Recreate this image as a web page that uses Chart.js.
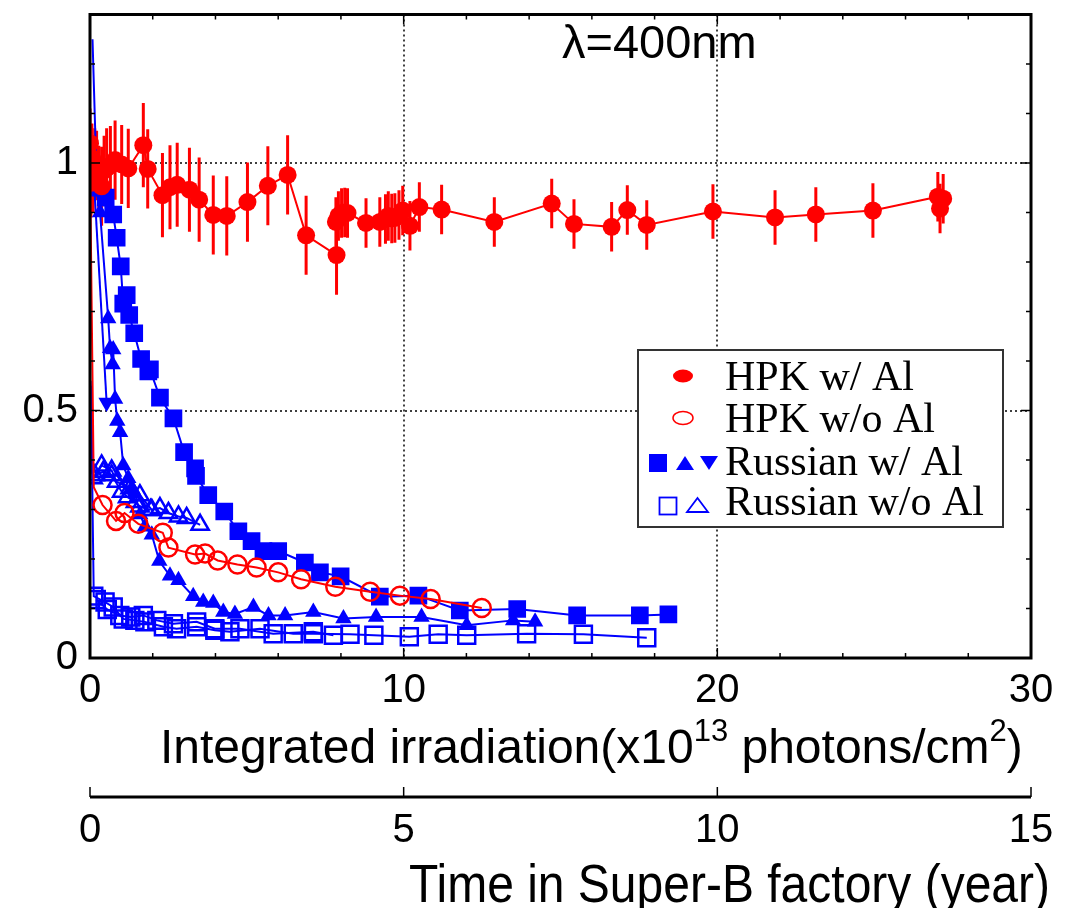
<!DOCTYPE html>
<html><head><meta charset="utf-8">
<script src="https://cdn.jsdelivr.net/npm/chart.js@4.4.1/dist/chart.umd.min.js"></script>
<style>html,body{margin:0;padding:0;background:#fff}</style>
</head><body>
<canvas id="c" width="1066" height="908"></canvas>
<script>
// ---------- data ----------
const xMajor = [0, 10, 20, 30];
const xTickLabels = ['0', '10', '20', '30'];
const yMajor = [0, 0.5, 1];
const yTickLabels = ['0', '0.5', '1'];
const x2Major = [0, 5, 10, 15];
const x2TickLabels = ['0', '5', '10', '15'];

const xTitleParts = ['Integrated irradiation(x10', '13', ' photons/cm', '2', ')'];
const x2Title = 'Time in Super-B factory (year)';
const annotation = 'λ=400nm';
const legendLabels = ['HPK w/ Al', 'HPK w/o Al', 'Russian w/ Al', 'Russian w/o Al'];

// HPK w/ Al (filled circles, with error bars)
const hpkAlX = [0.00,0.03,0.06,0.10,0.15,0.21,0.28,0.37,0.45,0.53,0.65,0.80,1.01,1.22,1.70,1.84,2.31,2.55,2.78,3.17,3.48,3.93,4.36,5.02,5.67,6.30,6.89,7.86,7.84,7.92,8.02,8.12,8.21,8.80,9.24,9.42,9.51,9.62,9.72,9.85,9.97,10.20,10.50,11.21,12.89,14.72,15.43,16.63,17.13,17.75,19.86,21.84,23.14,24.96,27.03,27.10,27.20];
const hpkAlY = [1.040,0.960,1.010,0.970,1.000,0.995,0.965,0.953,0.985,0.990,0.995,1.006,0.997,0.989,1.036,0.988,0.935,0.951,0.956,0.946,0.926,0.895,0.893,0.921,0.954,0.976,0.854,0.814,0.881,0.893,0.899,0.900,0.899,0.879,0.881,0.887,0.893,0.888,0.889,0.895,0.904,0.873,0.911,0.906,0.881,0.918,0.877,0.871,0.905,0.875,0.902,0.890,0.896,0.904,0.932,0.908,0.928];
const hpkAlErr = [0.07,0.07,0.07,0.07,0.07,0.07,0.07,0.08,0.07,0.08,0.08,0.08,0.08,0.08,0.085,0.08,0.085,0.085,0.085,0.085,0.085,0.08,0.08,0.08,0.08,0.08,0.08,0.08,0.05,0.05,0.05,0.05,0.05,0.05,0.05,0.05,0.05,0.05,0.05,0.05,0.05,0.05,0.05,0.05,0.05,0.05,0.05,0.05,0.05,0.05,0.055,0.055,0.055,0.055,0.05,0.05,0.05];

// HPK w/o Al (open circles)
const hpkNoAlX = [0.00,0.12,0.40,0.83,1.10,1.54,2.32,2.50,3.35,3.67,4.07,4.70,5.31,6.00,6.73,7.82,8.93,9.88,10.86,12.49];
const hpkNoAlY = [1.00,0.345,0.309,0.277,0.293,0.271,0.253,0.223,0.209,0.211,0.197,0.189,0.183,0.173,0.159,0.144,0.134,0.126,0.119,0.101];

// Russian w/ Al : filled squares
const ruSqX = [0.08,0.22,0.50,0.74,0.85,0.98,1.06,1.17,1.25,1.41,1.63,1.86,1.91,2.23,2.66,3.00,3.35,3.38,3.77,4.28,4.73,5.15,5.53,6.00,6.85,7.33,7.99,9.24,10.47,11.79,13.62,15.53,17.53,18.44];
const ruSqY = [1.25,0.95,0.93,0.896,0.849,0.791,0.716,0.733,0.693,0.656,0.604,0.579,0.583,0.526,0.484,0.416,0.383,0.368,0.329,0.296,0.256,0.236,0.216,0.216,0.193,0.173,0.165,0.124,0.126,0.096,0.099,0.086,0.086,0.088];
// Russian w/ Al : filled up-triangles
const ruUpX = [0.15,0.32,0.58,0.64,0.72,0.74,0.80,0.87,0.96,1.06,1.22,1.33,1.43,1.60,1.75,1.97,2.21,2.55,2.82,3.29,3.61,3.93,4.25,4.62,5.21,5.69,6.22,7.12,8.08,9.12,10.57,12.01,13.49,14.19];
const ruUpY = [0.97,0.90,0.686,0.626,0.593,0.623,0.523,0.479,0.456,0.389,0.363,0.343,0.333,0.290,0.265,0.249,0.196,0.166,0.157,0.125,0.113,0.111,0.093,0.089,0.103,0.086,0.086,0.093,0.080,0.083,0.083,0.066,0.076,0.073];
// Russian w/ Al : filled down-triangles
const ruDnX = [0.12,0.53];
const ruDnY = [0.97,0.516];

// Russian w/o Al : open triangles (two samples)
const ruOTriAX = [0.02,0.10,0.37,0.69,0.85,1.28,1.59,1.97,2.23,2.50,2.82,3.08,3.51];
const ruOTriAY = [0.56,0.363,0.389,0.379,0.356,0.343,0.329,0.299,0.303,0.293,0.286,0.283,0.269];
const ruOTriBX = [0.16,0.42,0.69,1.01,1.20,1.45,1.59,1.93];
const ruOTriBY = [0.369,0.376,0.369,0.336,0.325,0.315,0.306,0.299];
// Russian w/o Al : open squares (two samples)
const ruOSqAX = [0.03,0.12,0.48,0.74,1.06,1.43,1.75,2.34,2.76,3.40,3.98,4.46,5.42,6.48,7.12,8.29,9.05,10.18,11.10,12.01,13.92,15.73,17.75];
const ruOSqAY = [0.55,0.125,0.113,0.103,0.079,0.076,0.073,0.063,0.059,0.063,0.056,0.053,0.059,0.049,0.049,0.048,0.046,0.043,0.048,0.046,0.049,0.048,0.041];
const ruOSqBX = [0.20,0.55,0.95,1.30,1.70,2.13,2.66,3.40,3.98,4.78,5.84,7.12,7.76];
const ruOSqBY = [0.118,0.098,0.086,0.083,0.086,0.076,0.069,0.073,0.059,0.059,0.049,0.053,0.046];

// ---------- chart ----------
const SANS = '"Liberation Sans", Arial, Helvetica, sans-serif';
const SERIF = '"Liberation Serif", "Times New Roman", serif';
const RED = '#ff0000', BLUE = '#0000ff';
const pts = (xs, ys) => xs.map((x, i) => ({x: x, y: ys[i]}));
const near = (v, arr) => arr.findIndex(a => Math.abs(a - v) < 1e-6);

function series(label, xs, ys, color, style, r, filled, lead, extra) {
  return Object.assign({
    label: label, data: pts(xs, ys), showLine: true, tension: 0,
    borderColor: color, borderWidth: 2,
    pointStyle: style,
    pointRadius: (c) => (c.dataIndex < lead ? 0 : r),
    pointBackgroundColor: filled ? color : 'rgba(0,0,0,0)',
    pointBorderColor: color, pointBorderWidth: filled ? 0 : 2.5
  }, extra || {});
}

const datasets = [
  series('HPK w/ Al', hpkAlX, hpkAlY, RED, 'circle', 9, true, 0),
  series('HPK w/o Al', hpkNoAlX, hpkNoAlY, RED, 'circle', 9, false, 2),
  series('Russian w/ Al sq', ruSqX, ruSqY, BLUE, 'rect', 12.5, true, 1),
  series('Russian w/ Al up', ruUpX, ruUpY, BLUE, 'triangle', 9.5, true, 1),
  series('Russian w/ Al dn', ruDnX, ruDnY, BLUE, 'triangle', 9.5, true, 1, {pointRotation: 180}),
  series('Russian w/o Al triA', ruOTriAX, ruOTriAY, BLUE, 'triangle', 10, false, 1),
  series('Russian w/o Al triB', ruOTriBX, ruOTriBY, BLUE, 'triangle', 10, false, 0),
  series('Russian w/o Al sqA', ruOSqAX, ruOSqAY, BLUE, 'rect', 12, false, 1),
  series('Russian w/o Al sqB', ruOSqBX, ruOSqBY, BLUE, 'rect', 12, false, 0)
];

const decor = {
  id: 'decor',
  beforeDatasetsDraw(chart) {
    const {ctx, chartArea: a, scales: {x, y}} = chart;
    ctx.save();
    // dotted grid lines
    ctx.strokeStyle = '#000'; ctx.lineWidth = 1.5; ctx.setLineDash([2, 3]);
    xMajor.forEach(v => { if (v > x.min && v < x.max) { const p = Math.round(x.getPixelForValue(v)); ctx.beginPath(); ctx.moveTo(p, a.top); ctx.lineTo(p, a.bottom); ctx.stroke(); } });
    yMajor.forEach(v => { if (v > y.min && v < y.max) { const p = Math.round(y.getPixelForValue(v)); ctx.beginPath(); ctx.moveTo(a.left, p); ctx.lineTo(a.right, p); ctx.stroke(); } });
    ctx.setLineDash([]);
    // error bars for HPK w/ Al
    ctx.beginPath(); ctx.rect(a.left, a.top, a.right - a.left, a.bottom - a.top); ctx.clip();
    ctx.strokeStyle = RED; ctx.lineWidth = 3;
    hpkAlX.forEach((xv, i) => {
      const px = x.getPixelForValue(xv);
      ctx.beginPath();
      ctx.moveTo(px, y.getPixelForValue(hpkAlY[i] + hpkAlErr[i]));
      ctx.lineTo(px, y.getPixelForValue(hpkAlY[i] - hpkAlErr[i]));
      ctx.stroke();
    });
    ctx.restore();
  },
  afterDraw(chart) {
    const {ctx, chartArea: a, scales: {x, y, x2}} = chart;
    ctx.save();
    ctx.strokeStyle = '#000'; ctx.fillStyle = '#000';
    // inward ticks on all four sides
    ctx.lineWidth = 1.5;
    x.ticks.forEach(t => {
      const p = x.getPixelForValue(t.value);
      const L = near(t.value, xMajor) >= 0 ? 10 : 5;
      ctx.beginPath(); ctx.moveTo(p, a.bottom); ctx.lineTo(p, a.bottom - L);
      ctx.moveTo(p, a.top); ctx.lineTo(p, a.top + L); ctx.stroke();
    });
    y.ticks.forEach(t => {
      const p = y.getPixelForValue(t.value);
      const L = near(t.value, yMajor) >= 0 ? 10 : 5;
      ctx.beginPath(); ctx.moveTo(a.left, p); ctx.lineTo(a.left + L, p);
      ctx.moveTo(a.right, p); ctx.lineTo(a.right - L, p); ctx.stroke();
    });
    // frame
    ctx.lineWidth = 3;
    ctx.strokeRect(a.left, a.top, a.right - a.left, a.bottom - a.top);
    // secondary (time) axis
    const ly = x2.top;
    ctx.beginPath(); ctx.moveTo(x2.left, ly); ctx.lineTo(x2.right, ly); ctx.stroke();
    ctx.lineWidth = 1.5;
    x2.ticks.forEach(t => {
      const p = x2.getPixelForValue(t.value);
      ctx.beginPath(); ctx.moveTo(p, ly); ctx.lineTo(p, ly - 10); ctx.stroke();
    });
    // axis titles
    ctx.textBaseline = 'alphabetic'; ctx.textAlign = 'left';
    let tx = 160;
    xTitleParts.forEach((s, i) => {
      const sup = i % 2 === 1;
      ctx.font = (sup ? 31 : 48) + 'px ' + SANS;
      ctx.fillText(s, tx, sup ? 741 : 763);
      tx += ctx.measureText(s).width;
    });
    ctx.save();
    ctx.translate(0, 902); ctx.scale(1, 1.1);
    ctx.font = '48px ' + SANS; ctx.textAlign = 'right';
    ctx.fillText(x2Title, 1050, 0);
    ctx.restore();
    // annotation
    ctx.font = '47px ' + SANS; ctx.textAlign = 'left';
    ctx.fillText(annotation, 562, 58);
    // legend
    const L = {l: 638, t: 350, r: 1003, b: 527};
    ctx.fillStyle = '#fff'; ctx.fillRect(L.l, L.t, L.r - L.l, L.b - L.t);
    ctx.strokeStyle = '#333'; ctx.lineWidth = 2; ctx.strokeRect(L.l, L.t, L.r - L.l, L.b - L.t);
    const base = [390, 432, 475, 515];
    ctx.fillStyle = '#000'; ctx.font = '42px ' + SERIF;
    legendLabels.forEach((s, i) => ctx.fillText(s, 725, base[i]));
    // legend markers
    ctx.fillStyle = RED; ctx.strokeStyle = RED; ctx.lineWidth = 1.5;
    ctx.beginPath(); ctx.ellipse(683, 376, 10, 6.5, 0, 0, 2 * Math.PI); ctx.fill();
    ctx.beginPath(); ctx.ellipse(683, 418, 10, 6.5, 0, 0, 2 * Math.PI); ctx.stroke();
    ctx.fillStyle = BLUE; ctx.strokeStyle = BLUE;
    ctx.fillRect(649, 454, 18, 18);
    ctx.beginPath(); ctx.moveTo(676, 470); ctx.lineTo(694, 470); ctx.lineTo(685, 456); ctx.closePath(); ctx.fill();
    ctx.beginPath(); ctx.moveTo(700, 456); ctx.lineTo(718, 456); ctx.lineTo(709, 470); ctx.closePath(); ctx.fill();
    ctx.lineWidth = 1.8;
    ctx.strokeRect(659.5, 497.5, 17, 17);
    ctx.beginPath(); ctx.moveTo(687, 512); ctx.lineTo(708, 512); ctx.lineTo(697.5, 498); ctx.closePath(); ctx.stroke();
    ctx.restore();
  }
};

function zeroPad(s) {
  s.paddingLeft = 0; s.paddingRight = 0; s.paddingTop = 0; s.paddingBottom = 0;
  if (s._margins) { s._margins.left = 0; s._margins.right = 0; s._margins.top = 0; s._margins.bottom = 0; }
}

const tickFont = {family: SANS, size: 40};
new Chart(document.getElementById('c'), {
  type: 'scatter',
  data: {datasets: datasets},
  options: {
    responsive: false, animation: false,
    layout: {padding: {left: 0, right: 35, top: 9, bottom: 0}},
    plugins: {legend: {display: false}, tooltip: {enabled: false}},
    scales: {
      x: {
        type: 'linear', position: 'bottom', weight: 0, min: 0, max: 30,
        grid: {display: false, drawTicks: false}, border: {display: false},
        ticks: {stepSize: 2, autoSkip: false, maxRotation: 0, padding: 9, color: '#000', font: tickFont,
          callback: (v) => { const k = near(v, xMajor); return k >= 0 ? xTickLabels[k] : ''; }},
        afterFit: (s) => { s.height = 139; zeroPad(s); }
      },
      x2: {
        type: 'linear', position: 'bottom', weight: 1, min: 0, max: 15,
        grid: {display: false, drawTicks: false}, border: {display: false},
        ticks: {stepSize: 5, autoSkip: false, maxRotation: 0, padding: 10, color: '#000', font: tickFont,
          callback: (v) => { const k = near(v, x2Major); return k >= 0 ? x2TickLabels[k] : ''; }},
        afterFit: (s) => { s.height = 111; zeroPad(s); }
      },
      y: {
        type: 'linear', position: 'left', min: 0, max: 1.3,
        grid: {display: false, drawTicks: false}, border: {display: false},
        ticks: {stepSize: 0.1, autoSkip: false, padding: 12, color: '#000', font: tickFont,
          callback: (v) => { const k = near(v, yMajor); return k >= 0 ? yTickLabels[k] : ''; }},
        afterFit: (s) => { s.width = 90; zeroPad(s); }
      }
    }
  },
  plugins: [decor]
});
</script>
</body></html>
